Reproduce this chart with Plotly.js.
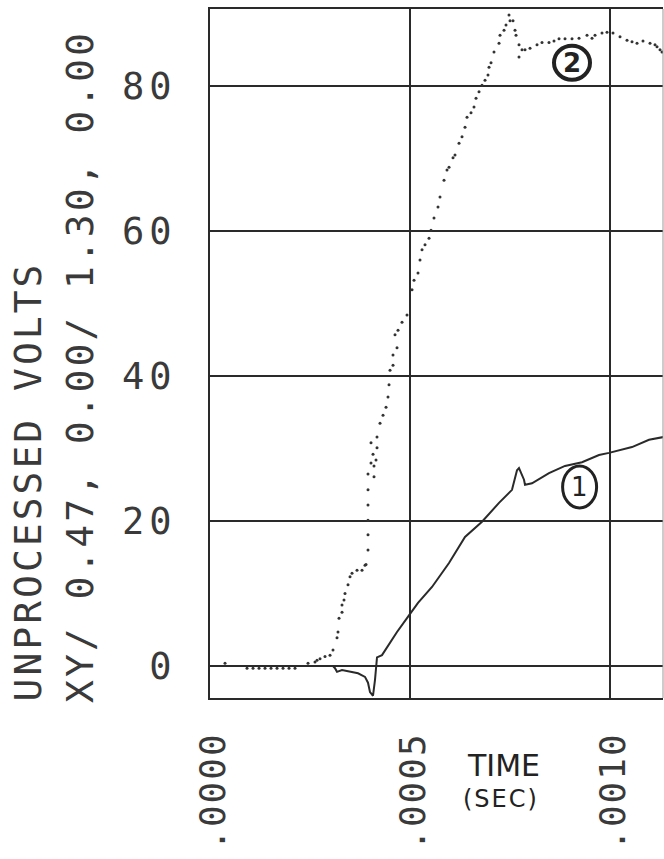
<!DOCTYPE html>
<html>
<head>
<meta charset="utf-8">
<script src="https://cdn.plot.ly/plotly-3.0.1.min.js"></script>
<style>
  html, body { margin: 0; padding: 0; background: #fff; overflow: hidden; }
  #chart { width: 664px; height: 859px; }
  .xtick text { letter-spacing: 2px; }
  .ytick text { letter-spacing: 5px; }
  g.annotation[data-index="0"] text, g.annotation[data-index="1"] text { letter-spacing: 3px; }
  g.annotation[data-index="3"] text { letter-spacing: 2px; }
</style>
</head>
<body>
<div id="chart"></div>
<script>
// ---- data (time in seconds, unprocessed volts) ----
const curve1Time = [0, 0.0001, 0.0002, 0.0003075, 0.0003125, 0.0003175, 0.00033, 0.00037, 0.0003875, 0.000395, 0.0004, 0.0004075,
  0.0004125, 0.000415, 0.0004175, 0.00043, 0.0004425, 0.0004675, 0.0004925, 0.00052, 0.000555, 0.0005975, 0.0006375,
  0.00068, 0.0007225, 0.000755, 0.0007675, 0.0007725, 0.000785, 0.0007875, 0.000805, 0.0008475, 0.0008875, 0.00093,
  0.0009725, 0.0009975, 0.001055, 0.0010975, 0.001135];
const curve1Volts = [0, 0, 0, 0, -0.3, -0.8, -0.55, -1.0, -1.5, -2.3, -3.6, -4.1,
  -1.9, -0.1, 1.2, 1.5, 2.6, 4.7, 6.6, 8.7, 10.9, 14.2, 17.8,
  19.9, 22.5, 24.3, 27.0, 27.3, 25.7, 25.0, 25.2, 26.6, 27.6, 28.1,
  29.1, 29.4, 30.2, 31.2, 31.6];

const curve2Time = [0.0000375, 0.0000925, 0.0001075, 0.0001225, 0.0001375, 0.0001525, 0.0001675, 0.0001825, 0.0001975, 0.0002125,
  0.000245, 0.0002625, 0.0002675, 0.000275, 0.0002875, 0.0003, 0.0003075, 0.0003175, 0.00032, 0.0003225, 0.00033, 0.00033,
  0.000335, 0.0003375, 0.000345, 0.00035, 0.000355, 0.0003675, 0.00038, 0.0003875, 0.00039,
  0.000395, 0.000395, 0.000395, 0.000395, 0.000395, 0.000395, 0.00041, 0.0004025, 0.00041, 0.000415, 0.0004075, 0.0004175,
  0.0004025, 0.0004175, 0.000425, 0.0004325, 0.00044, 0.000445, 0.0004475, 0.00045, 0.0004575, 0.0004575, 0.0004675,
  0.0004625, 0.00047, 0.00048, 0.0004925, 0.000505, 0.00051, 0.00052, 0.000525, 0.00053, 0.0005375, 0.0005475, 0.0005525,
  0.00056, 0.00057, 0.000575, 0.000585, 0.0005925, 0.0005975, 0.0006075, 0.0006125, 0.0006225, 0.00063, 0.0006375,
  0.0006425, 0.0006525, 0.00066, 0.000665, 0.0006725, 0.00068, 0.0006875, 0.000695, 0.0006975, 0.0007025, 0.00071,
  0.0007225, 0.000725, 0.000735, 0.00074, 0.0007475, 0.00075, 0.0007575, 0.0007625, 0.000765, 0.0007725, 0.0007725,
  0.00078, 0.0007875, 0.0008, 0.0008175, 0.00083, 0.0008475, 0.00086, 0.0008725, 0.0008875, 0.000905, 0.0009225,
  0.0009425, 0.000955, 0.0009625, 0.00098, 0.0009925, 0.0010075, 0.001025, 0.0010425, 0.001055, 0.0010675, 0.0010825,
  0.0011, 0.0011125, 0.0011175, 0.001125, 0.00113];
const curve2Volts = [0.4, -0.3, -0.3, -0.3, -0.3, -0.3, -0.3, -0.3, -0.3, -0.3,
  0.4, 0.55, 0.8, 1.0, 1.3, 1.5, 2.2, 3.9, 4.7, 6.6, 7.4, 8.4,
  9.1, 10.0, 11.2, 12.3, 12.8, 13.2, 13.2, 13.9, 14.0,
  16.0, 18.1, 20.1, 22.2, 24.3, 26.5, 26.1, 28.0, 27.6, 28.4, 29.2, 30.1,
  30.8, 31.6, 33.5, 34.6, 35.7, 37.1, 38.8, 40.8, 41.5, 42.9, 43.9,
  45.7, 46.3, 47.4, 48.4, 51.9, 53.2, 54.2, 56.0, 57.4, 58.1, 59.0, 60.1,
  61.8, 63.3, 64.7, 67.0, 68.4, 68.8, 70.1, 70.5, 72.1, 73.0, 74.3,
  75.7, 76.3, 77.1, 78.3, 79.2, 80.1, 80.8, 81.5, 82.6, 83.2, 84.7,
  85.9, 87.0, 87.7, 88.4, 89.8, 89.0, 89.0, 87.7, 87.0, 85.7, 84.0,
  85.0, 85.0, 85.2, 85.7, 86.0, 86.0, 86.2, 86.5, 86.5, 86.5, 86.6,
  87.0, 86.6, 87.0, 87.3, 87.4, 87.3, 86.8, 86.3, 86.1, 85.9, 86.2,
  85.9, 85.7, 85.4, 85.0, 84.7];

const xTickVals = [0, 0.0005, 0.0010];
const xTickText = ['.0000', '.0005', '.0010'];
const yTickVals = [0, 20, 40, 60, 80];
const yTickText = ['0', '20', '40', '60', '80'];

const yTitleLine1 = 'UNPROCESSED VOLTS';
const yTitleLine2 = 'XY/ 0.47, 0.00/ 1.30, 0.00';
const xTitleLine1 = 'TIME';
const xTitleLine2 = '(SEC)';
const seriesLabels = ['1', '2'];
const labelTime = [0.000924, 0.000905];
const labelVolts = [24.7, 83.2];

const ink = '#2a2a2a';
const monoFont = {family: 'DejaVu Sans Mono', size: 37, color: '#3a3a3a'};
const xTickFont = {family: 'DejaVu Sans Mono', size: 36, color: '#3a3a3a'};

const traces = [
  {x: curve1Time, y: curve1Volts, type: 'scatter', mode: 'lines',
   line: {color: ink, width: 2}, hoverinfo: 'skip'},
  {x: curve2Time, y: curve2Volts, type: 'scatter', mode: 'markers',
   marker: {color: '#333', size: 3}, hoverinfo: 'skip'}
];

const layout = {
  width: 664, height: 859,
  margin: {l: 210, r: 1, t: 9, b: 161, pad: 0},
  paper_bgcolor: '#fff', plot_bgcolor: '#fff',
  showlegend: false,
  xaxis: {
    range: [0, 0.0011325], tickvals: xTickVals, ticktext: xTickText,
    tickangle: -90, ticks: '', ticklabelstandoff: 18, ticklabelshift: 3, tickfont: xTickFont,
    showgrid: true, gridcolor: ink, gridwidth: 2, zeroline: false,
    showline: true, linecolor: ink, linewidth: 2, mirror: true, fixedrange: true
  },
  yaxis: {
    range: [-4.41, 90.62], tickvals: yTickVals, ticktext: yTickText,
    ticks: '', ticklabelstandoff: 24, tickfont: monoFont,
    showgrid: true, gridcolor: ink, gridwidth: 2, zeroline: false,
    showline: true, linecolor: ink, linewidth: 2, mirror: false, fixedrange: true
  },
  shapes: [
    {type: 'line', xref: 'paper', yref: 'paper', x0: 1, x1: 1, y0: 0, y1: 1,
     line: {color: '#999', width: 1}},
    {type: 'circle', xref: 'x', yref: 'y', xsizemode: 'pixel', ysizemode: 'pixel',
     xanchor: labelTime[0], yanchor: labelVolts[0], x0: -17, x1: 17, y0: -21, y1: 21,
     line: {color: '#222', width: 3}},
    {type: 'circle', xref: 'x', yref: 'y', xsizemode: 'pixel', ysizemode: 'pixel',
     xanchor: labelTime[1], yanchor: labelVolts[1], x0: -18, x1: 18, y0: -17, y1: 17,
     line: {color: '#222', width: 4}}
  ],
  annotations: [
    {text: yTitleLine1, xref: 'paper', yref: 'paper', x: 0, y: 0, xshift: -182, yshift: 216,
     xanchor: 'center', yanchor: 'middle', textangle: -90, showarrow: false, borderpad: 0,
     font: {family: 'DejaVu Sans Mono', size: 38, color: '#3a3a3a'}},
    {text: yTitleLine2, xref: 'paper', yref: 'paper', x: 0, y: 0, xshift: -130, yshift: 331,
     xanchor: 'center', yanchor: 'middle', textangle: -90, showarrow: false, borderpad: 0,
     font: {family: 'DejaVu Sans Mono', size: 38, color: '#3a3a3a'}},
    {text: xTitleLine1, xref: 'paper', yref: 'paper', x: 0, y: 0, xshift: 293, yshift: -67,
     xanchor: 'center', yanchor: 'middle', showarrow: false, borderpad: 0,
     font: {family: 'DejaVu Sans', size: 30, color: '#222'}},
    {text: xTitleLine2, xref: 'paper', yref: 'paper', x: 0, y: 0, xshift: 291, yshift: -101,
     xanchor: 'center', yanchor: 'middle', showarrow: false, borderpad: 0,
     font: {family: 'DejaVu Sans', size: 24, color: '#222'}},
    {text: seriesLabels[0], xref: 'x', yref: 'y', x: labelTime[0], y: labelVolts[0],
     xanchor: 'center', yanchor: 'middle', showarrow: false, borderpad: 0,
     font: {family: 'DejaVu Sans', size: 26, color: '#222'}},
    {text: '<b>' + seriesLabels[1] + '</b>', xref: 'x', yref: 'y', x: labelTime[1], y: labelVolts[1],
     xanchor: 'center', yanchor: 'middle', showarrow: false, borderpad: 0,
     font: {family: 'DejaVu Sans', size: 26, color: '#222'}}
  ]
};

Plotly.newPlot('chart', traces, layout, {displayModeBar: false, staticPlot: true});
</script>
</body>
</html>
